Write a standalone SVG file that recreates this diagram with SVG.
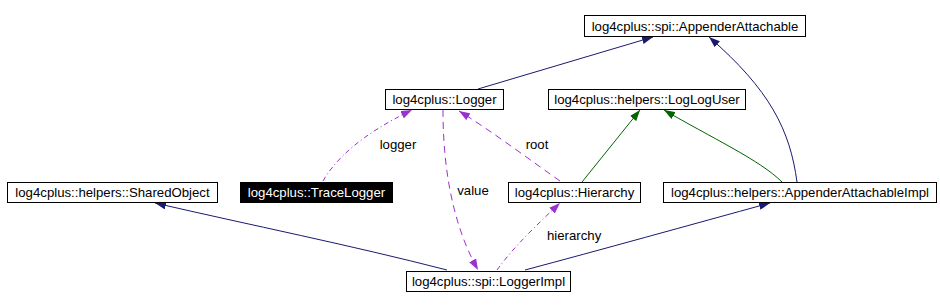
<svg xmlns="http://www.w3.org/2000/svg" width="940" height="308" viewBox="0 0 940 308">
<style>
  .box { fill: #ffffff; stroke: #000000; stroke-width: 1; }
  .boxdark { fill: #000000; stroke: #000000; stroke-width: 1; }
  .t { font-family: "Liberation Sans", Arial, sans-serif; font-size: 13.2px; fill: #000000; text-anchor: middle; }
  .tw { font-family: "Liberation Sans", Arial, sans-serif; font-size: 13.2px; fill: #ffffff; text-anchor: middle; }
  .lbl { font-family: "Liberation Sans", Arial, sans-serif; font-size: 13.2px; fill: #000000; }
  .blue { fill: none; stroke: #191970; stroke-width: 1; }
  .green { fill: none; stroke: #006400; stroke-width: 1; }
  .dash { fill: none; stroke: #9a32cd; stroke-width: 1; stroke-dasharray: 7,5; }
  .dashdot { fill: none; stroke: #9a32cd; stroke-width: 1; stroke-dasharray: 5,3,1,3; }
</style>
<defs>
  <marker id="ab" markerUnits="userSpaceOnUse" markerWidth="12" markerHeight="8" refX="11" refY="4" orient="auto">
    <path d="M0,0 L11,4 L0,8 z" fill="#191970"/>
  </marker>
  <marker id="ag" markerUnits="userSpaceOnUse" markerWidth="12" markerHeight="8" refX="11" refY="4" orient="auto">
    <path d="M0,0 L11,4 L0,8 z" fill="#006400"/>
  </marker>
  <marker id="ap" markerUnits="userSpaceOnUse" markerWidth="12" markerHeight="8" refX="11" refY="4" orient="auto">
    <path d="M0,0 L11,4 L0,8 z" fill="#9a32cd"/>
  </marker>
</defs>
<rect width="940" height="308" fill="#ffffff"/>
<g id="connectors">
  <path class="blue" d="M478,89 L653,37" marker-end="url(#ab)"/>
  <path class="blue" d="M797,182 C790,130 770,90 709,37" marker-end="url(#ab)"/>
  <path class="green" d="M582,182 L640,110" marker-end="url(#ag)"/>
  <path class="green" d="M782,182 C760,160 710,137 664,110" marker-end="url(#ag)"/>
  <path class="dashdot" d="M323,181 C335,160 360,135 412,110" marker-end="url(#ap)"/>
  <path class="dash" d="M560,181 C530,160 490,130 459,111" marker-end="url(#ap)"/>
  <path class="dash" d="M443,110 C443,160 450,220 478,270" marker-end="url(#ap)"/>
  <path class="dashdot" d="M497,270 C515,245 540,222 560,203" marker-end="url(#ap)"/>
  <path class="blue" d="M447,270 C350,245 250,225 155,203" marker-end="url(#ab)"/>
  <path class="blue" d="M525,270 C600,250 690,225 770,203" marker-end="url(#ab)"/>
  <text class="lbl" x="398" y="149" text-anchor="middle">logger</text>
  <text class="lbl" x="537" y="149" text-anchor="middle">root</text>
  <text class="lbl" x="473" y="195" text-anchor="middle">value</text>
  <text class="lbl" x="547" y="240">hierarchy</text>
</g>
<g id="n_AppenderAttachable">
  <rect class="box" x="584.5" y="15.5" width="221" height="21"/>
  <text class="t" x="695" y="31">log4cplus::spi::AppenderAttachable</text>
</g>
<g id="n_Logger">
  <rect class="box" x="385.5" y="89.5" width="118" height="20"/>
  <text class="t" x="444.5" y="104">log4cplus::Logger</text>
</g>
<g id="n_LogLogUser">
  <rect class="box" x="548.5" y="89.5" width="197" height="20"/>
  <text class="t" x="647" y="104">log4cplus::helpers::LogLogUser</text>
</g>
<g id="n_SharedObject">
  <rect class="box" x="7.5" y="182.5" width="210" height="20"/>
  <text class="t" x="112.5" y="197">log4cplus::helpers::SharedObject</text>
</g>
<g id="n_TraceLogger">
  <rect class="boxdark" x="240.5" y="182.5" width="152" height="20"/>
  <text class="tw" x="316.5" y="197">log4cplus::TraceLogger</text>
</g>
<g id="n_Hierarchy">
  <rect class="box" x="508.5" y="182.5" width="132" height="20"/>
  <text class="t" x="574.5" y="197">log4cplus::Hierarchy</text>
</g>
<g id="n_AppenderAttachableImpl">
  <rect class="box" x="663.5" y="182.5" width="273" height="20"/>
  <text class="t" x="800" y="197">log4cplus::helpers::AppenderAttachableImpl</text>
</g>
<g id="n_LoggerImpl">
  <rect class="box" x="406.5" y="271.5" width="164" height="20"/>
  <text class="t" x="488.5" y="286">log4cplus::spi::LoggerImpl</text>
</g>
</svg>
